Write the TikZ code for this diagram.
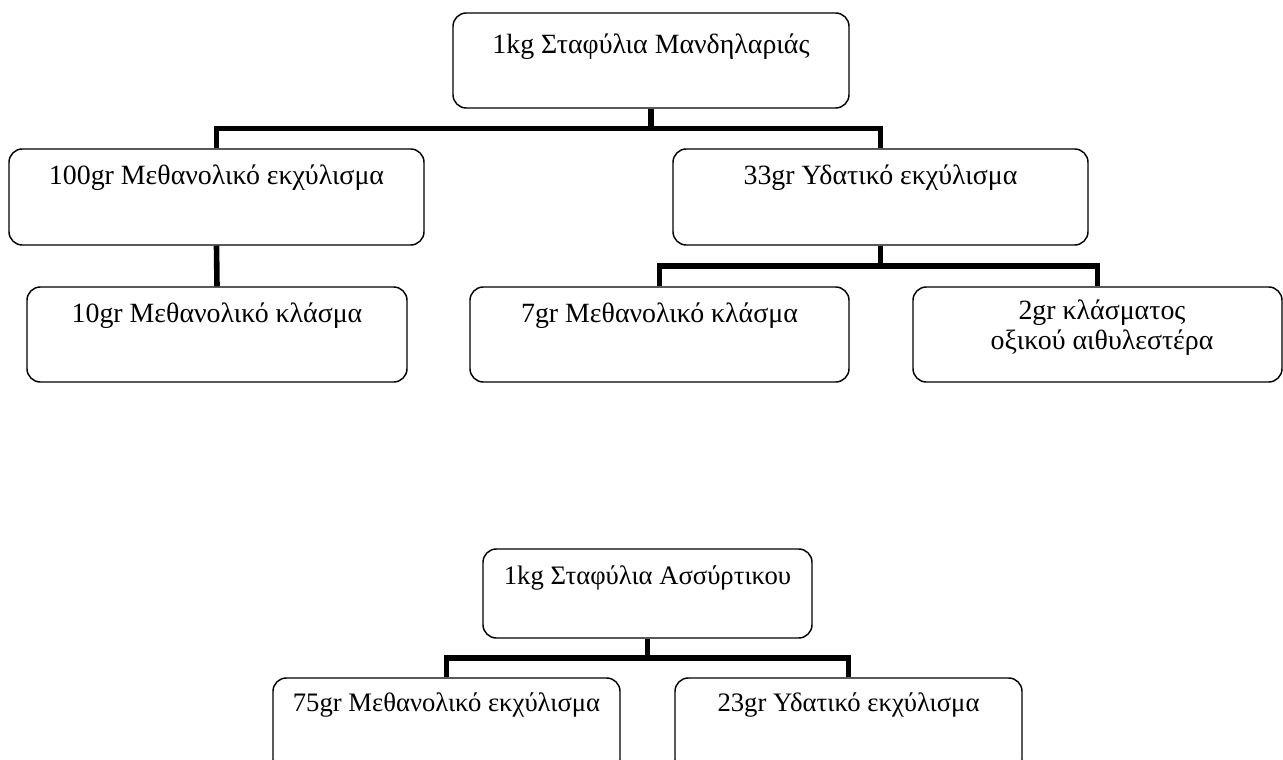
\documentclass[tikz,border=0pt]{standalone}
\usepackage{fontspec}
\setmainfont{Liberation Serif}
\usetikzlibrary{calc}
\tikzset{
    box/.style 2 args={draw, rounded corners=10pt, line width=1.1pt, inner sep=0pt,
        minimum width=#1*0.75pt, minimum height=#2*0.75pt},
    caption/.style={anchor=base, inner sep=0pt, align=center,
        font=\fontsize{20.9}{22.5}\selectfont},
    smallcaption/.style={caption, font=\fontsize{20}{22.5}\selectfont},
    conn/.style={line width=4.2pt, line join=miter}
}
\begin{document}
\begin{tikzpicture}[x=0.75pt, y=-0.75pt]
\clip (0,0) rectangle (1283,760);
% Mandilaria
\node[box={396}{95}] (mand) at (651,60.5) {};
\node[box={415}{96}] (meth) at (216.5,197) {};
\node[box={415}{96}] (hyd) at (880.5,197) {};
\node[box={380}{95}] (methfr) at (217,334.5) {};
\node[box={379}{95}] (hydfr) at (659.5,334.5) {};
\node[box={369}{95}] (ester) at (1097.5,334.5) {};
% Assyrtiko
\node[box={329}{89}] (asyr) at (647.5,593.5) {};
\node[box={347}{95}] (asmeth) at (446.5,725.5) {};
\node[box={347}{95}] (ashyd) at (848.5,725.5) {};

\node[caption] (mandtxt) at ($(mand.north)+(0,41)$) {1kg Σταφύλια Μανδηλαριάς};
\node[caption] (methtxt) at ($(meth.north)+(0,36)$) {100gr Μεθανολικό εκχύλισμα};
\node[caption] (hydtxt) at ($(hyd.north)+(0,36)$) {33gr Υδατικό εκχύλισμα};
\node[caption] (methfrtxt) at ($(methfr.north)+(0,36)$) {10gr Μεθανολικό κλάσμα};
\node[caption] (hydfrtxt) at ($(hydfr.north)+(0,36)$) {7gr Μεθανολικό κλάσμα};
\node[caption] (estertxt) at ($(ester.north)+(4.5,63)$) {2gr κλάσματος\\οξικού αιθυλεστέρα};
\node[smallcaption] (asyrtxt) at ($(asyr.north)+(0,36)$) {1kg Σταφύλια Ασσύρτικου};
\node[smallcaption] (asmethtxt) at ($(asmeth.north)+(0,34)$) {75gr Μεθανολικό εκχύλισμα};
\node[smallcaption] (ashydtxt) at ($(ashyd.north)+(0,34)$) {23gr Υδατικό εκχύλισμα};

% connectors
\foreach \p/\a/\b in {mand/meth/hyd, hyd/hydfr/ester, asyr/asmeth/ashyd} {
    \draw[conn] (\a.north) |- ($(\p.south)!.5!(\a.north)$) coordinate (j) -| (\b.north);
    \draw[conn] (\p.south) -- (\p.south |- j);
}
\draw[conn] (meth.south) -- (methfr.north);
\end{tikzpicture}
\end{document}
